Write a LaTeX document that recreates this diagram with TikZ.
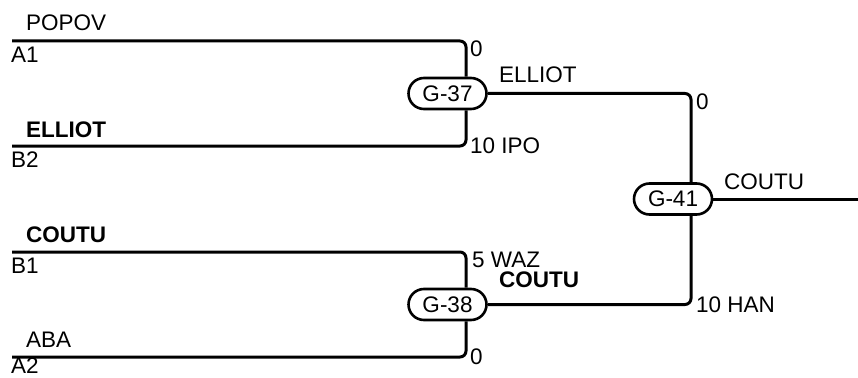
\documentclass[tikz,border=0pt]{standalone}
\usepackage{fontspec}
\setmainfont{Liberation Sans}
\usetikzlibrary{shapes.misc}

\tikzset{
	gate/.style = {draw, line width=2.6pt, rounded rectangle, minimum width=78pt, minimum height=31pt, inner sep=0pt, font=\fontsize{22.5}{26}\selectfont},
	wire/.style = {line width=3pt, rounded corners=6pt},
	lbl/.style = {anchor=base west, inner sep=0pt, font=\fontsize{22.5}{26}\selectfont},
	team/.style = {lbl, font=\fontsize{22.5}{26}\selectfont\bfseries},
}

\begin{document}
\begin{tikzpicture}[x=1pt, y=-1pt]
		\useasboundingbox (0,0) rectangle (858,377);

		\node[gate] (g37) at (447.5,93.5) {G-37};
		\node[gate] (g38) at (447.5,304.5) {G-38};
		\node[gate] (g41) at (673,199) {G-41};

		\coordinate (a1) at (12,41);
		\coordinate (b2) at (12,146);
		\coordinate (b1) at (12,252);
		\coordinate (a2) at (12,357);
		\coordinate (out) at (858,199);

		\draw[wire] (a1) -| ([xshift=18.5pt]g37.north);
		\draw[wire] (b2) -| ([xshift=18.5pt]g37.south);
		\draw[wire] (b1) -| ([xshift=18.5pt]g38.north);
		\draw[wire] (a2) -| ([xshift=18.5pt]g38.south);
		\draw[wire] (g37.east) -| ([xshift=18pt]g41.north);
		\draw[wire] (g38.east) -| ([xshift=18pt]g41.south);
		\draw[wire] (g41.east) -- (out);

		\node[lbl] (popov) at (26,31) {POPOV};
		\node[lbl] (lA1) at (11,63) {A1};
		\node[lbl] (sA1) at (470,57) {0};
		\node[team] (elliot) at (26,137) {ELLIOT};
		\node[lbl] (lB2) at (11,167) {B2};
		\node[lbl] (sB2) at (470,153) {10 IPO};
		\node[lbl] (w37) at (499,83) {ELLIOT};
		\node[lbl] (s37) at (696,110) {0};

		\node[team] (coutu) at (26,242) {COUTU};
		\node[lbl] (lB1) at (11,273) {B1};
		\node[lbl] (sB1) at (472,267) {5 WAZ};
		\node[lbl] (aba) at (26,347) {ABA};
		\node[lbl] (lA2) at (11,373.5) {A2};
		\node[lbl] (sA2) at (470,364) {0};
		\node[team] (w38) at (499,287) {COUTU};
		\node[lbl] (s38) at (696,312) {10 HAN};

		\node[lbl] (w41) at (724,189) {COUTU};
	\end{tikzpicture}
\end{document}
